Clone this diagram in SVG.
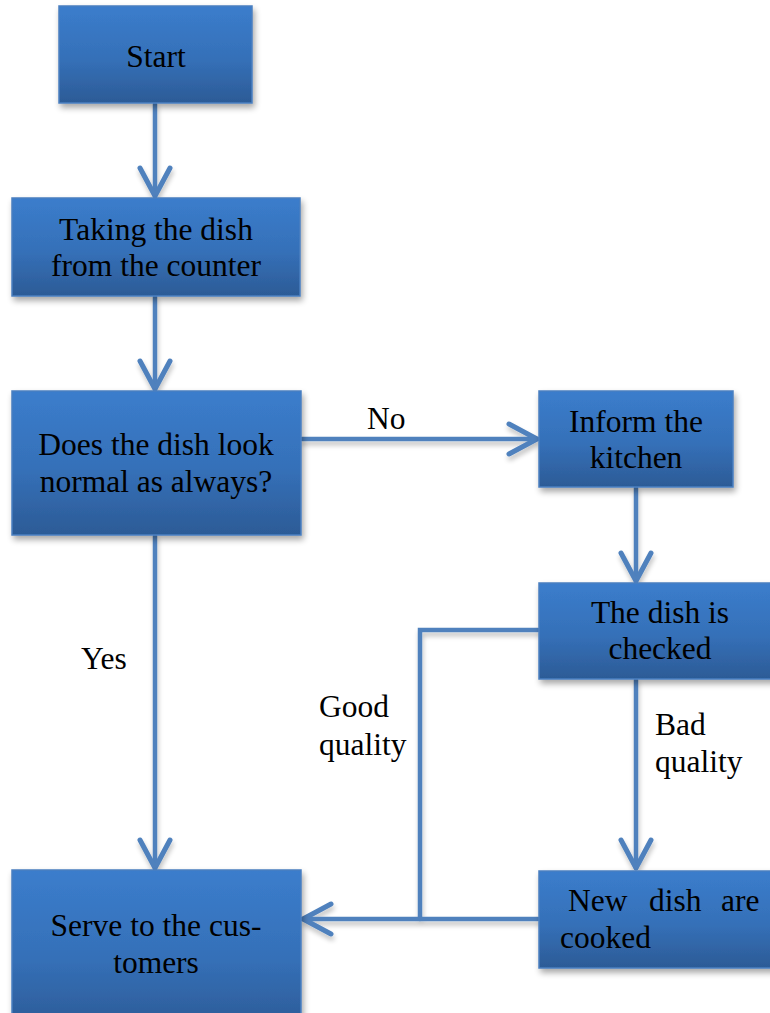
<svg xmlns="http://www.w3.org/2000/svg" width="770" height="1013" viewBox="0 0 770 1013">
  <defs>
    <linearGradient id="boxFill" x1="0" y1="0" x2="0" y2="1">
      <stop offset="0" stop-color="#3b7dcc"/>
      <stop offset="0.55" stop-color="#3570b8"/>
      <stop offset="1" stop-color="#2c5b96"/>
    </linearGradient>
    <filter id="boxShadow" x="-10%" y="-10%" width="125%" height="130%">
      <feGaussianBlur in="SourceAlpha" stdDeviation="3"/>
      <feOffset dx="2" dy="4" result="b"/>
      <feComponentTransfer><feFuncA type="linear" slope="0.35"/></feComponentTransfer>
      <feMerge><feMergeNode/><feMergeNode in="SourceGraphic"/></feMerge>
    </filter>
    <filter id="lineShadow" x="-20%" y="-20%" width="140%" height="140%">
      <feGaussianBlur in="SourceAlpha" stdDeviation="2.5"/>
      <feOffset dx="1" dy="4" result="b"/>
      <feComponentTransfer><feFuncA type="linear" slope="0.25"/></feComponentTransfer>
      <feMerge><feMergeNode/><feMergeNode in="SourceGraphic"/></feMerge>
    </filter>
    <marker id="vhead" viewBox="-32 -18 36 36" markerWidth="36" markerHeight="36" refX="0" refY="0" orient="auto" markerUnits="userSpaceOnUse">
      <path d="M-28,-15 L0,0 L-28,15" fill="none" stroke="#4f81bd" stroke-width="5" stroke-linecap="round" stroke-linejoin="round"/>
    </marker>
    <style>
      .box { fill: url(#boxFill); stroke: #4a7fc0; stroke-width: 1.5; filter: url(#boxShadow); }
      .lbl { font-family: "Liberation Serif", "Times New Roman", serif; font-size: 31.5px; fill: #000; }
      .mid { text-anchor: middle; }
      .conn { fill: none; stroke: #4f81bd; stroke-width: 4.5; stroke-linecap: round; stroke-linejoin: miter; }
    </style>
  </defs>

  <!-- connectors -->
  <g id="connectors" filter="url(#lineShadow)">
    <line class="conn" x1="155" y1="104" x2="155" y2="196" marker-end="url(#vhead)"/>
    <line class="conn" x1="155" y1="297" x2="155" y2="389" marker-end="url(#vhead)"/>
    <line class="conn" x1="155" y1="536" x2="155" y2="868" marker-end="url(#vhead)"/>
    <line class="conn" x1="302" y1="439" x2="537" y2="439" marker-end="url(#vhead)"/>
    <line class="conn" x1="636" y1="488" x2="636" y2="581" marker-end="url(#vhead)"/>
    <line class="conn" x1="636" y1="680" x2="636" y2="868" marker-end="url(#vhead)"/>
    <polyline class="conn" points="538,630 420,630 420,919" stroke-linecap="butt"/>
    <line class="conn" x1="538" y1="919" x2="303" y2="919" marker-end="url(#vhead)"/>
  </g>

  <!-- connector labels -->
  <g id="labels">
    <text class="lbl" x="367" y="429">No</text>
    <text class="lbl" x="81" y="669">Yes</text>
    <text class="lbl" x="319" y="717">Good</text>
    <text class="lbl" x="319" y="755">quality</text>
    <text class="lbl" x="655" y="735">Bad</text>
    <text class="lbl" x="655" y="772">quality</text>
  </g>

  <g id="start">
    <rect class="box" x="59" y="6" width="193" height="97"/>
    <text class="lbl mid" x="156" y="67">Start</text>
  </g>

  <g id="take-dish">
    <rect class="box" x="12" y="198" width="288" height="98"/>
    <text class="lbl mid" x="156" y="240">Taking the dish</text>
    <text class="lbl mid" x="156" y="276">from the counter</text>
  </g>

  <g id="check-look">
    <rect class="box" x="12" y="391" width="289" height="144"/>
    <text class="lbl mid" x="156" y="455">Does the dish look</text>
    <text class="lbl mid" x="156" y="492">normal as always?</text>
  </g>

  <g id="inform-kitchen">
    <rect class="box" x="539" y="391" width="194" height="96"/>
    <text class="lbl mid" x="636" y="432">Inform the</text>
    <text class="lbl mid" x="636" y="468">kitchen</text>
  </g>

  <g id="dish-checked">
    <rect class="box" x="539" y="583" width="245" height="96"/>
    <text class="lbl mid" x="660" y="623">The dish is</text>
    <text class="lbl mid" x="660" y="659">checked</text>
  </g>

  <g id="new-dish">
    <rect class="box" x="539" y="871" width="245" height="97"/>
    <text class="lbl" y="911"><tspan x="568">New</tspan><tspan x="649">dish</tspan><tspan x="721">are</tspan></text>
    <text class="lbl" x="560" y="948">cooked</text>
  </g>

  <g id="serve">
    <rect class="box" x="12" y="870" width="289" height="160"/>
    <text class="lbl mid" x="156" y="936">Serve to the cus-</text>
    <text class="lbl mid" x="156" y="973">tomers</text>
  </g>
</svg>
